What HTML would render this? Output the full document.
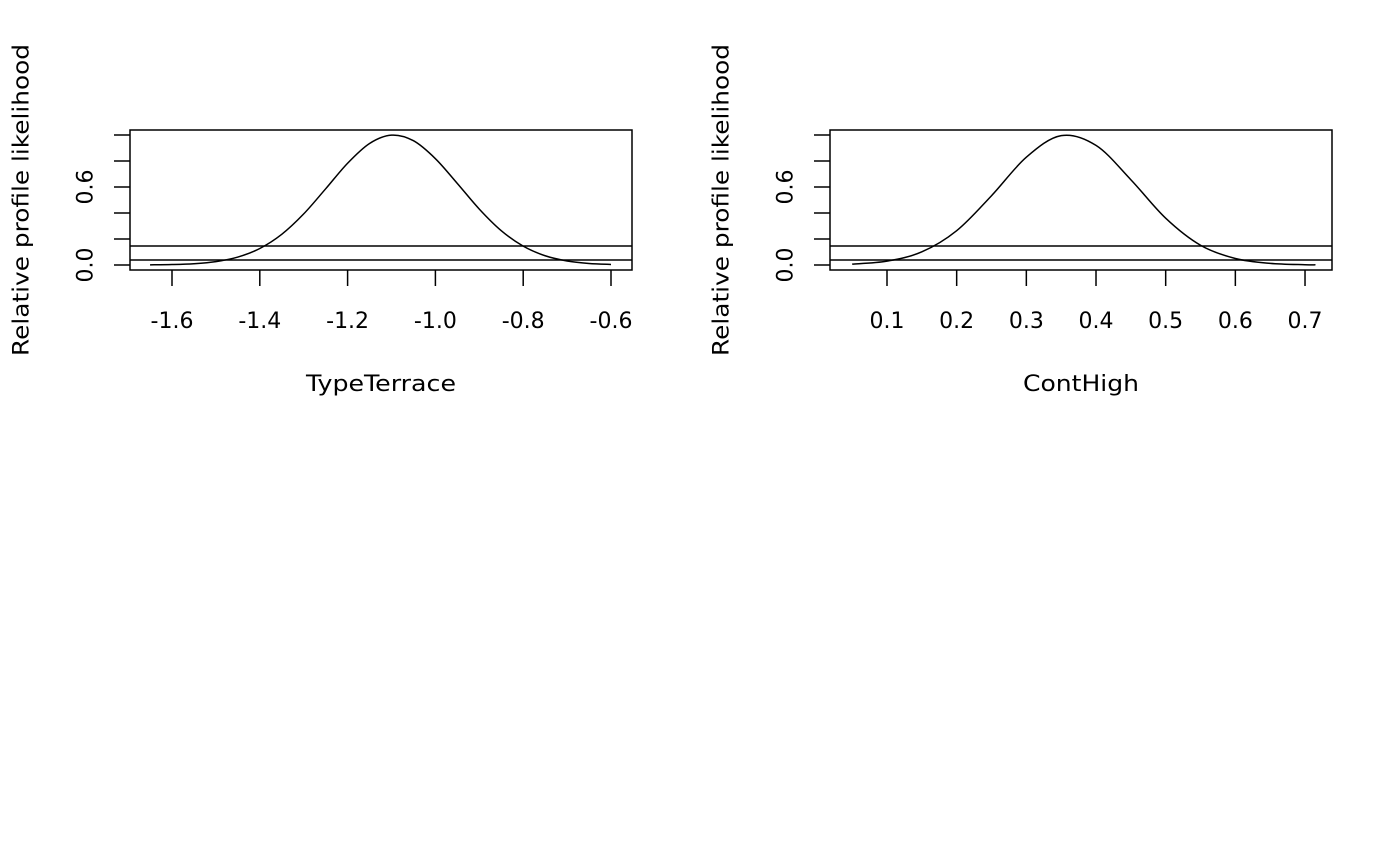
<!DOCTYPE html>
<html><head><meta charset="utf-8"><style>
html,body{margin:0;padding:0;background:#fff}
svg{display:block}
text{font-family:"DejaVu Sans","Liberation Sans",sans-serif;font-size:22px;fill:#000}
</style></head><body>
<svg id="chart" width="1400" height="866" viewBox="0 0 1400 866" xmlns="http://www.w3.org/2000/svg"></svg>
<script>
// Panel 1: TypeTerrace
const xs1 = [-1.65,-1.60,-1.55,-1.50,-1.45,-1.40,-1.35,-1.30,-1.25,-1.20,-1.15,-1.10,-1.05,-1.00,-0.95,-0.90,-0.85,-0.80,-0.75,-0.70,-0.65,-0.60];
const ys1 = [0.0011,0.0035,0.010,0.026,0.061,0.127,0.236,0.393,0.586,0.783,0.935,0.999,0.956,0.818,0.627,0.430,0.264,0.145,0.071,0.031,0.012,0.0043];
const xticks1 = [-1.6,-1.4,-1.2,-1.0,-0.8,-0.6];
const xtickLabels1 = ["-1.6","-1.4","-1.2","-1.0","-0.8","-0.6"];
// Panel 2: ContHigh
const xs2 = [0.05,0.10,0.15,0.20,0.25,0.30,0.35,0.40,0.45,0.50,0.55,0.60,0.65,0.70,0.715];
const ys2 = [0.0067,0.0296,0.101,0.264,0.533,0.829,0.995,0.920,0.656,0.360,0.152,0.050,0.0126,0.0024,0.0015];
const xticks2 = [0.1,0.2,0.3,0.4,0.5,0.6,0.7];
const xtickLabels2 = ["0.1","0.2","0.3","0.4","0.5","0.6","0.7"];
const yticks = [0,0.2,0.4,0.6,0.8,1.0];
const ytickLabels = ["0.0","","","0.6","",""];
const cutoffs = [0.1465,0.0385];

const svg = document.getElementById('chart');
const NS = 'http://www.w3.org/2000/svg';
function mk(tag, attrs, parent){const e=document.createElementNS(NS,tag);for(const k in attrs)e.setAttribute(k,attrs[k]);(parent||svg).appendChild(e);return e;}

function panel(ox, xmin, pxPerUnit, x0px, xs, ys, xticks, xlabels, title, titleLen, name){
  const g = mk('g',{});
  
  
  const X = v => x0px + (v - xmin) * pxPerUnit;
  const Y = v => 265 - v * 130;
  const box = mk('rect',{x:ox,y:130,width:502,height:140,fill:'none',stroke:'#000','stroke-width':1.5},g);
  
  
  yticks.forEach((t,i)=>{
    const l = mk('line',{x1:ox-16,x2:ox,y1:Y(t),y2:Y(t),stroke:'#000','stroke-width':1.5},g);
    
    
    if(ytickLabels[i]){
      const tx = mk('text',{x:0,y:0,'text-anchor':'middle',transform:`translate(${ox-45},${Y(t)}) rotate(-90)`,dy:'0.35em'},g);
      tx.textContent = ytickLabels[i];
      
      
    }
  });
  xticks.forEach((t,i)=>{
    const l = mk('line',{x1:X(t),x2:X(t),y1:270,y2:286,stroke:'#000','stroke-width':1.5},g);
    
    
    const tx = mk('text',{x:X(t),y:328,'text-anchor':'middle'},g);
    tx.textContent = xlabels[i];
    
    
  });
  cutoffs.forEach(c=>{
    const l = mk('line',{x1:ox,x2:ox+502,y1:Y(c),y2:Y(c),stroke:'#000','stroke-width':1.5},g);
    
    
  });
  const P = xs.map((v,i)=>[X(v),Y(ys[i])]);
  let d = `M${P[0][0]},${P[0][1]}`;
  for(let i=0;i<P.length-1;i++){
    const p0=P[Math.max(0,i-1)],p1=P[i],p2=P[i+1],p3=P[Math.min(P.length-1,i+2)];
    const c1=[p1[0]+(p2[0]-p0[0])/6,p1[1]+(p2[1]-p0[1])/6];
    const c2=[p2[0]-(p3[0]-p1[0])/6,p2[1]-(p3[1]-p1[1])/6];
    d+=` C${c1[0]},${c1[1]} ${c2[0]},${c2[1]} ${p2[0]},${p2[1]}`;
  }
  const path = mk('path',{d:d,fill:'none',stroke:'#000','stroke-width':1.5},g);
  
  
  const xt = mk('text',{x:ox+251,y:391,'text-anchor':'middle',textLength:titleLen,lengthAdjust:'spacingAndGlyphs'},g);
  xt.textContent = title;
  
  
  const yt = mk('text',{x:0,y:0,'text-anchor':'middle',transform:`translate(${ox-109},200) rotate(-90)`,dy:'0.35em',textLength:312,lengthAdjust:'spacingAndGlyphs'},g);
  yt.textContent = 'Relative profile likelihood';
  
  
}
panel(130, -1.6, 439, 172, xs1, ys1, xticks1, xtickLabels1, 'TypeTerrace', 150, 'panel-typeterrace');
panel(830, 0.1, 696.7, 887, xs2, ys2, xticks2, xtickLabels2, 'ContHigh', 116, 'panel-conthigh');
</script>
</body></html>
